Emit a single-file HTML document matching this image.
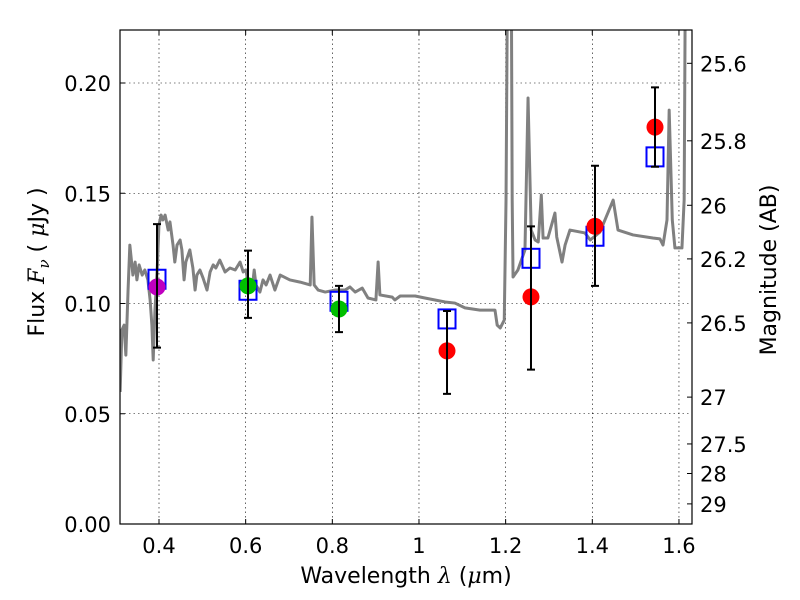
<!DOCTYPE html>
<html><head><meta charset="utf-8"><style>
body{margin:0;background:#fff}
svg{display:block;font-family:"DejaVu Sans","Liberation Sans",sans-serif}
</style></head><body>
<svg id="chart" width="800" height="600">
<g id="grid"></g>
<defs><clipPath id="clip"><rect x="120" y="30" width="572" height="494"/></clipPath></defs>
<g id="spec" clip-path="url(#clip)"></g>
<g id="marks"></g>
<rect x="120" y="30" width="572" height="494" fill="none" stroke="#000" stroke-width="1.2"/>
<g id="axes"></g>
<text x="406" y="583" font-size="22" text-anchor="middle">Wavelength  <tspan font-style="italic" font-family="DejaVu Serif, serif">λ</tspan> (<tspan font-style="italic" font-family="DejaVu Serif, serif">μ</tspan>m)</text>
<text transform="translate(44,262) rotate(-90)" font-size="22" text-anchor="middle">Flux  <tspan font-style="italic" font-family="DejaVu Serif, serif">F</tspan><tspan font-style="italic" font-size="15" dy="5" font-family="DejaVu Serif, serif">ν</tspan><tspan dy="-5">  ( </tspan><tspan font-style="italic" font-family="DejaVu Serif, serif">μ</tspan>Jy )</text>
<text transform="translate(776,270) rotate(-90)" font-size="22" text-anchor="middle">Magnitude (AB)</text>
</svg>
<script>
const xTicks=[0.4,0.6,0.8,1.0,1.2,1.4,1.6];
const xTickLabels=["0.4","0.6","0.8","1","1.2","1.4","1.6"];
const yTicks=[0,0.05,0.10,0.15,0.20];
const yTickLabels=["0.00","0.05","0.10","0.15","0.20"];
const magTicks=[25.6,25.8,26,26.2,26.5,27,27.5,28,29];
const magLabels=["25.6","25.8","26","26.2","26.5","27","27.5","28","29"];
const specWl=[0.3103,0.3144,0.3195,0.3235,0.3286,0.3327,0.3398,0.3449,0.3490,0.3541,0.3612,0.3673,0.3744,0.3795,0.3836,0.3866,0.3907,0.3958,0.3999,0.4049,0.4090,0.4141,0.4212,0.4253,0.4324,0.4365,0.4416,0.4487,0.4528,0.4579,0.4619,0.4711,0.4782,0.4833,0.4874,0.4945,0.5016,0.5108,0.5179,0.5250,0.5312,0.5403,0.5525,0.5637,0.5759,0.5871,0.5943,0.6004,0.6055,0.6146,0.6197,0.6238,0.6329,0.6401,0.6472,0.6563,0.6675,0.6797,0.7021,0.7256,0.7490,0.7530,0.7581,0.7673,0.7836,0.8060,0.8294,0.8406,0.8528,0.8691,0.8823,0.9006,0.9057,0.9098,0.9383,0.9444,0.9566,0.9912,1.0136,1.0370,1.0604,1.0828,1.1062,1.1408,1.1754,1.1805,1.1876,1.1968,1.2009,1.2060,1.2121,1.2151,1.2171,1.2283,1.2446,1.2517,1.2589,1.2680,1.2752,1.2823,1.2864,1.2975,1.3138,1.3179,1.3301,1.3372,1.3484,1.3830,1.3953,1.4176,1.4482,1.4593,1.4940,1.5398,1.5561,1.5632,1.5724,1.5774,1.5846,1.5907,1.6069,1.6120,1.6161,1.6334];
const specFlux=[0.0599,0.0880,0.0902,0.0766,0.1061,0.1265,0.1129,0.1188,0.1107,0.1175,0.1129,0.1152,0.1107,0.1016,0.0902,0.0744,0.0970,0.1152,0.1356,0.1401,0.1379,0.1401,0.1333,0.1370,0.1265,0.1188,0.1265,0.1288,0.1243,0.1107,0.1188,0.1243,0.1161,0.1061,0.1129,0.1152,0.1116,0.1061,0.1143,0.1175,0.1161,0.1197,0.1143,0.1161,0.1152,0.1188,0.1143,0.1152,0.1097,0.1061,0.1152,0.1084,0.1052,0.1107,0.1084,0.1129,0.1061,0.1129,0.1107,0.1097,0.1084,0.1392,0.1084,0.1061,0.1052,0.1061,0.1061,0.1075,0.1052,0.1070,0.1025,0.1016,0.1188,0.1039,0.1029,0.1016,0.1034,0.1034,0.1025,0.1016,0.1007,0.1002,0.0980,0.0970,0.0970,0.0902,0.0889,0.0925,0.147,0.30,0.30,0.147,0.1120,0.1152,0.1243,0.1932,0.1333,0.1288,0.1279,0.1492,0.1297,0.1297,0.1410,0.1302,0.1188,0.1265,0.1333,0.1320,0.1288,0.1324,0.1469,0.1333,0.1311,0.1297,0.1293,0.1265,0.1379,0.1877,0.1379,0.1252,0.1252,0.147,0.30,0.30];
const photWl=[0.3954,0.6054,0.8154,1.0647,1.2585,1.4062,1.5447];
const photFlux=[0.1075,0.108,0.0975,0.0785,0.103,0.135,0.180];
const errLo=[0.080,0.0935,0.087,0.059,0.070,0.108,0.162];
const errHi=[0.136,0.124,0.108,0.0966,0.135,0.1625,0.198];
const photColors=["#bf00bf","#00bf00","#00bf00","#ff0000","#ff0000","#ff0000","#ff0000"];
const modelFlux=[0.111,0.106,0.101,0.093,0.1205,0.1305,0.1665];

const NS="http://www.w3.org/2000/svg";
const X=v=>159+(v-0.4)*433.3, Y=v=>524-v*2205;
function mk(tag,attrs,parent){const e=document.createElementNS(NS,tag);for(const k in attrs)e.setAttribute(k,attrs[k]);parent.appendChild(e);return e;}
const grid=document.getElementById('grid'),axes=document.getElementById('axes');
xTicks.forEach((t,i)=>{
  const x=X(t);
  const g=mk('line',{x1:x,x2:x,y1:30,y2:524,stroke:'#000','stroke-width':0.6,'stroke-dasharray':'1.5,3'},grid);
  
  
  const tl=mk('text',{x:x,y:553,'font-size':21,'text-anchor':'middle'},axes);
  tl.textContent=xTickLabels[i];
  
  
  mk('line',{x1:x,x2:x,y1:524,y2:519,stroke:'#000'},axes);
  mk('line',{x1:x,x2:x,y1:30,y2:35,stroke:'#000'},axes);
});
yTicks.forEach((t,i)=>{
  const y=Y(t);
  const g=mk('line',{x1:120,x2:692,y1:y,y2:y,stroke:'#000','stroke-width':0.6,'stroke-dasharray':'1.5,3'},grid);
  
  
  const tl=mk('text',{x:111,y:y+8,'font-size':21,'text-anchor':'end'},axes);
  tl.textContent=yTickLabels[i];
  
  
  mk('line',{x1:120,x2:125,y1:y,y2:y,stroke:'#000'},axes);
});
magTicks.forEach((m,i)=>{
  const f=Math.pow(10,(23.9-m)/2.5);const y=Y(f);
  mk('line',{x1:692,x2:687,y1:y,y2:y,stroke:'#000'},axes);
  const tl=mk('text',{x:700,y:y+8,'font-size':21},axes);
  tl.textContent=magLabels[i];
  
  
});
const sp=mk('polyline',{points:specWl.map((w,i)=>X(w)+','+Y(specFlux[i])).join(' '),fill:'none',stroke:'#808080','stroke-width':3,'stroke-linejoin':'round'},document.getElementById('spec'));


const marks=document.getElementById('marks');
photWl.forEach((w,i)=>{
  const x=X(w);
  const s=mk('rect',{x:x-8.5,y:Y(modelFlux[i])-9.5,width:17,height:19,fill:'none',stroke:'#0000ff','stroke-width':2},marks);
  
  
  const c=mk('circle',{cx:x,cy:Y(photFlux[i]),r:8.5,fill:photColors[i]},marks);
  
  
  const e=mk('path',{d:`M${x},${Y(errLo[i])}V${Y(errHi[i])}M${x-4},${Y(errLo[i])}h8M${x-4},${Y(errHi[i])}h8`,stroke:'#000','stroke-width':2,fill:'none'},marks);
  
  
});
</script>
</body></html>
